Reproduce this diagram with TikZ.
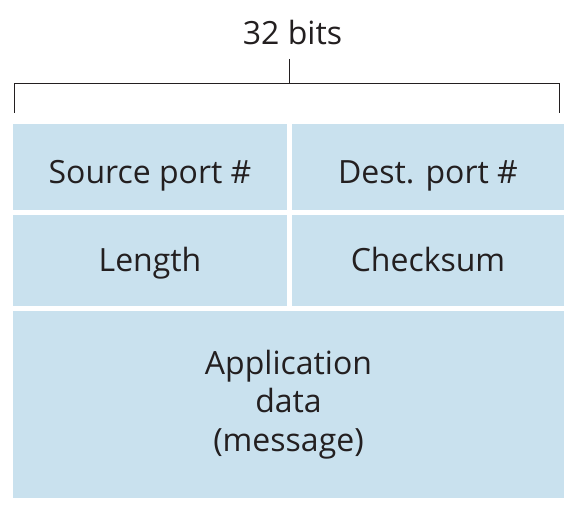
\documentclass[tikz,border=0pt]{standalone}
\usepackage{fontspec}
\setmainfont{Open Sans}
\definecolor{cellblue}{HTML}{C9E1EE}
\definecolor{inkdark}{HTML}{231F20}
\begin{document}
\begin{tikzpicture}[x=1pt,y=-1pt,
  cell/.style={fill=cellblue, draw=none, inner sep=0pt, text=inkdark,
    font=\fontsize{32}{38.3}\selectfont, align=center},
  toprow/.style={cell, minimum height=85.5pt, text height=33pt, text depth=0pt},
  midrow/.style={cell, minimum height=91pt, text height=22.4pt, text depth=0pt},
  bracket/.style={draw=inkdark, line width=1.5pt}]
\useasboundingbox (0,0) rectangle (578,532);
\node[toprow, minimum width=274pt] (src) at (150,166.75) {Source port \#};
\node[toprow, minimum width=272pt] (dst) at (428,166.75) {Dest. port \#};
\node[midrow, minimum width=274pt] (len) at (150,260.5) {Length};
\node[midrow, minimum width=272pt] (chk) at (428,260.5) {Checksum};
\node[cell, minimum width=551pt, minimum height=187pt] (data) at (288.5,404.5) {Application\\data\\(message)};
\node[text=inkdark, font=\fontsize{32}{38}\selectfont, anchor=base, inner sep=0pt] (bits) at (292.5,44.7) {32 bits};
\coordinate (bl) at (14.5,113);
\coordinate (br) at (559.5,113);
\coordinate (tk) at (289.5,59);
\draw[bracket] (bl) |- (br |- 0,83.5) -- (br);
\draw[bracket] (tk) -- (tk |- 0,83.5);
\end{tikzpicture}
\end{document}
